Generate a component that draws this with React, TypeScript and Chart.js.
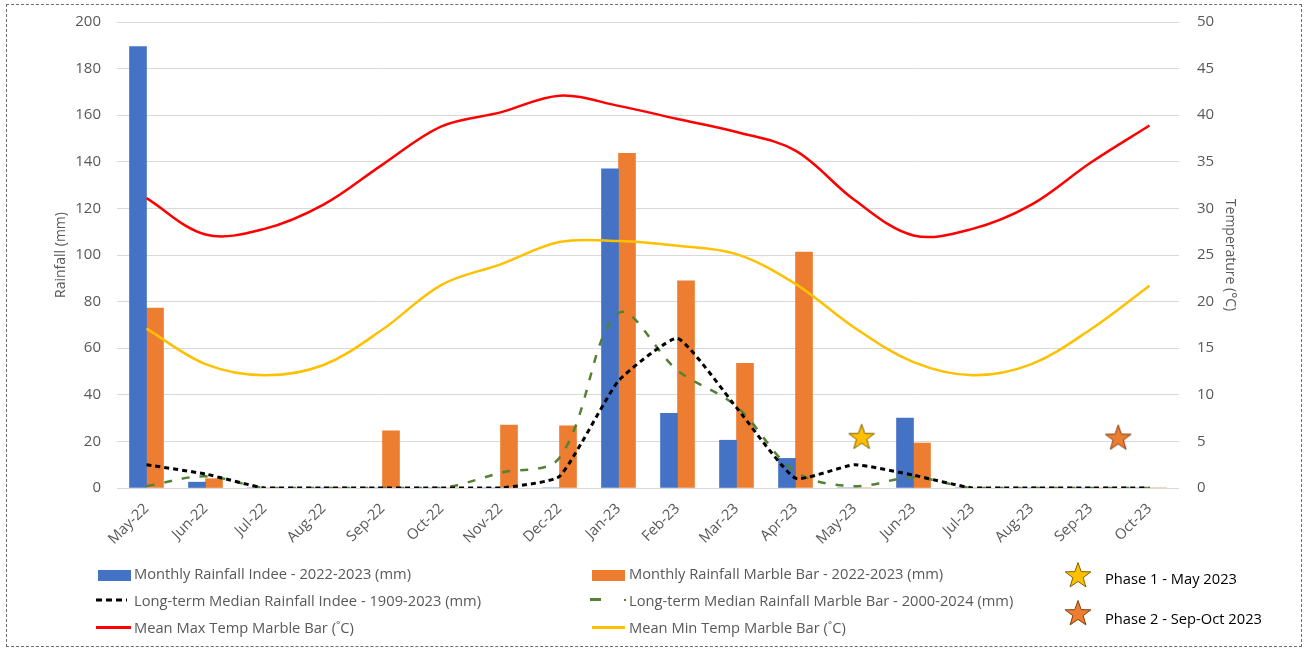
import React, { useEffect, useRef } from "react";
import { Chart, registerables } from "chart.js";

Chart.register(...registerables);

const months = ["May-22","Jun-22","Jul-22","Aug-22","Sep-22","Oct-22","Nov-22","Dec-22","Jan-23","Feb-23","Mar-23","Apr-23","May-23","Jun-23","Jul-23","Aug-23","Sep-23","Oct-23"];
const indeeRain = [189.5, 2.5, 0, 0, 0, 0, 0, 0, 137, 32, 20.5, 12.7, 0, 30, 0, 0, 0, 0];
const marbleRain = [77.2, 4, 0, 0.3, 24.5, 0, 27, 26.7, 143.6, 88.9, 53.5, 101.2, 0, 19.3, 0, 0, 0, 0];
const indeeMedian = [10, 6, 0, 0, 0, 0, 0, 5, 46, 64.2, 34.5, 4.2, 10, 5.5, 0, 0, 0, 0];
const marbleMedian = [0.8, 5, 0, 0, 0, 0, 6.5, 13, 75, 50.5, 35, 7, 0.8, 4.5, 0, 0, 0, 0];
const maxTemp = [31.1, 27.2, 27.8, 30.4, 34.7, 38.8, 40.3, 42.1, 41.0, 39.6, 38.2, 36.2, 30.9, 27.1, 27.8, 30.4, 34.9, 38.9];
const minTemp = [17.1, 13.3, 12.1, 13.2, 17.0, 21.8, 24.0, 26.4, 26.5, 26.0, 25.1, 21.9, 17.2, 13.5, 12.1, 13.3, 17.0, 21.7];
// star markers: x = fractional month index, y = rainfall-axis value
const phase1 = { x: 12.12, y: 22.0 };
const phase2 = { x: 16.47, y: 21.7 };
const rainTicks = [0, 200, 20];
const tempTicks = [0, 50, 5];

const FONT = "'Segoe UI', 'Open Sans', sans-serif";
const TXT = "#595959";

function makeStar(fill: string, stroke: string, size: number) {
  const c = document.createElement("canvas");
  c.width = size;
  c.height = size;
  const ctx = c.getContext("2d")!;
  const cx = size / 2, cy = size / 2 + 1;
  const R = size / 2 - 1.5, r = R * 0.4;
  ctx.beginPath();
  for (let i = 0; i < 10; i++) {
    const rad = i % 2 === 0 ? R : r;
    const a = -Math.PI / 2 + (i * Math.PI) / 5;
    const px = cx + rad * Math.cos(a), py = cy + rad * Math.sin(a);
    if (i === 0) ctx.moveTo(px, py); else ctx.lineTo(px, py);
  }
  ctx.closePath();
  ctx.fillStyle = fill;
  ctx.fill();
  ctx.lineWidth = 1;
  ctx.strokeStyle = stroke;
  ctx.stroke();
  return c;
}

function StarIcon({ fill, stroke }: { fill: string; stroke: string }) {
  const R = 13.5, r = R * 0.4;
  const pts: string[] = [];
  for (let i = 0; i < 10; i++) {
    const rad = i % 2 === 0 ? R : r;
    const a = -Math.PI / 2 + (i * Math.PI) / 5;
    pts.push(`${15 + rad * Math.cos(a)},${16 + rad * Math.sin(a)}`);
  }
  return (
    <svg width={30} height={30} style={{ display: "block" }}>
      <polygon points={pts.join(" ")} fill={fill} stroke={stroke} strokeWidth={1} />
    </svg>
  );
}

export default function App() {
  const ref = useRef<HTMLCanvasElement>(null);
  useEffect(() => {
    const star1 = makeStar("#FFC000", "#7F6000", 30);
    const star2 = makeStar("#ED7D31", "#843C0C", 30);
    const starPlugin = {
      id: "phaseStars",
      afterDatasetsDraw(chart: any) {
        const xs = chart.scales.x, ys = chart.scales.y;
        const ctx = chart.ctx;
        const place = (p: { x: number; y: number }, img: HTMLCanvasElement) => {
          const i = Math.floor(p.x), f = p.x - i;
          const a = xs.getPixelForValue(i), b = xs.getPixelForValue(i + 1);
          const px = a + (b - a) * f;
          const py = ys.getPixelForValue(p.y);
          ctx.drawImage(img, px - img.width / 2, py - img.height / 2);
        };
        place(phase1, star1);
        place(phase2, star2);
      },
    };
    const chart = new Chart(ref.current!, {
      type: "bar",
      data: {
        labels: months,
        datasets: [
          { type: "line", label: "Mean Max Temp Marble Bar (˚C)", data: maxTemp, yAxisID: "y1", borderColor: "#FF0000", borderWidth: 2.5, pointRadius: 0, tension: 0.35, order: 1 },
          { type: "line", label: "Mean Min Temp Marble Bar  (˚C)", data: minTemp, yAxisID: "y1", borderColor: "#FFC000", borderWidth: 2.5, pointRadius: 0, tension: 0.35, order: 1 },
          { type: "line", label: "Long-term Median Rainfall Indee - 1909-2023 (mm)", data: indeeMedian, yAxisID: "y", borderColor: "#000000", borderWidth: 3, borderDash: [5, 4], pointRadius: 0, tension: 0.15, order: 2 },
          { type: "line", label: "Long-term Median Rainfall Marble Bar - 2000-2024 (mm)", data: marbleMedian, yAxisID: "y", borderColor: "#548235", borderWidth: 2.5, borderDash: [8, 10], pointRadius: 0, tension: 0.35, order: 3 },
          { type: "bar", label: "Monthly Rainfall Indee - 2022-2023 (mm)", data: indeeRain, yAxisID: "y", backgroundColor: "#4472C4", barThickness: 17, order: 5 },
          { type: "bar", label: "Monthly Rainfall Marble Bar - 2022-2023 (mm)", data: marbleRain, yAxisID: "y", backgroundColor: "#ED7D31", barThickness: 17, order: 5 },
        ],
      },
      options: {
        animation: false,
        responsive: false,
        layout: { padding: { top: 22, left: 0, right: 0, bottom: 0 } },
        plugins: { legend: { display: false }, tooltip: { enabled: false } },
        scales: {
          x: {
            type: "category",
            offset: true,
            grid: { display: false },
            border: { display: false },
            ticks: { color: TXT, font: { family: FONT, size: 14.7 }, minRotation: 45, maxRotation: 45, autoSkip: false, padding: 4 },
            afterFit: (s: any) => { s.height = 162; },
          },
          y: {
            position: "left",
            min: rainTicks[0],
            max: rainTicks[1],
            ticks: { stepSize: rainTicks[2], color: TXT, font: { family: FONT, size: 15 }, padding: 16 },
            grid: { color: "#D9D9D9", drawTicks: false, lineWidth: 1 },
            border: { display: false },
            title: { display: true, text: "Rainfall (mm)", color: TXT, font: { family: FONT, size: 14 }, padding: { top: 53, bottom: 0 } },
            afterFit: (s: any) => { s.width = 117; s.paddingTop = 0; s.paddingBottom = 0; },
          },
          y1: {
            position: "right",
            min: tempTicks[0],
            max: tempTicks[1],
            ticks: { stepSize: tempTicks[2], color: TXT, font: { family: FONT, size: 15 }, padding: 18 },
            grid: { display: false, drawTicks: false },
            border: { display: false },
            title: { display: true, text: "Temperature (°C)", color: TXT, font: { family: FONT, size: 14 }, padding: { top: 68, bottom: 0 } },
            afterFit: (s: any) => { s.width = 127; s.paddingTop = 0; s.paddingBottom = 0; },
          },
        },
      } as any,
      plugins: [starPlugin],
    });
    return () => chart.destroy();
  }, []);

  const legendText: React.CSSProperties = { position: "absolute", fontFamily: FONT, fontSize: 14.7, color: TXT, whiteSpace: "nowrap", lineHeight: "18px" };
  const row = (y: number) => y - 10;

  return (
    <div style={{ position: "fixed", left: 0, top: 0, width: 1306, height: 650, background: "#fff", overflow: "hidden" }}>
      <canvas ref={ref} width={1306} height={650} style={{ position: "absolute", left: 0, top: 0 }} />
      <div style={{ position: "absolute", left: 6, top: 4, width: 1296, height: 643, border: "1px dashed #6e6e6e", boxSizing: "border-box", pointerEvents: "none" }} />
      {/* column 1 */}
      <div style={{ position: "absolute", left: 98, top: 570, width: 33, height: 11, background: "#4472C4" }} />
      <div style={{ ...legendText, left: 134, top: row(574) }}>Monthly Rainfall Indee - 2022-2023 (mm)</div>
      <svg style={{ position: "absolute", left: 96, top: 597 }} width={32} height={6}>
        <line x1={0} y1={3} x2={31} y2={3} stroke="#000" strokeWidth={3} strokeDasharray="6,4" />
      </svg>
      <div style={{ ...legendText, left: 134, top: row(601) }}>Long-term Median Rainfall Indee - 1909-2023 (mm)</div>
      <div style={{ position: "absolute", left: 96, top: 626, width: 35, height: 3, background: "#FF0000" }} />
      <div style={{ ...legendText, left: 134, top: row(628) }}>Mean Max Temp Marble Bar (˚C)</div>
      {/* column 2 */}
      <div style={{ position: "absolute", left: 592, top: 570, width: 33, height: 11, background: "#ED7D31" }} />
      <div style={{ ...legendText, left: 629, top: row(574) }}>Monthly Rainfall Marble Bar - 2022-2023 (mm)</div>
      <div style={{ position: "absolute", left: 590, top: 598, width: 11, height: 3, background: "#548235" }} />
      <div style={{ position: "absolute", left: 624, top: 599, width: 2, height: 2, background: "#548235" }} />
      <div style={{ ...legendText, left: 629, top: row(601) }}>Long-term Median Rainfall Marble Bar - 2000-2024 (mm)</div>
      <div style={{ position: "absolute", left: 592, top: 626, width: 33, height: 3, background: "#FFC000" }} />
      <div style={{ ...legendText, left: 629, top: row(628) }}>Mean Min Temp Marble Bar  (˚C)</div>
      {/* stars */}
      <div style={{ position: "absolute", left: 1063, top: 560 }}><StarIcon fill="#FFC000" stroke="#7F6000" /></div>
      <div style={{ ...legendText, color: "#000", left: 1105, top: row(579) }}>Phase 1 - May 2023</div>
      <div style={{ position: "absolute", left: 1063, top: 598 }}><StarIcon fill="#ED7D31" stroke="#843C0C" /></div>
      <div style={{ ...legendText, color: "#000", left: 1105, top: row(619) }}>Phase 2 - Sep-Oct 2023</div>
    </div>
  );
}
